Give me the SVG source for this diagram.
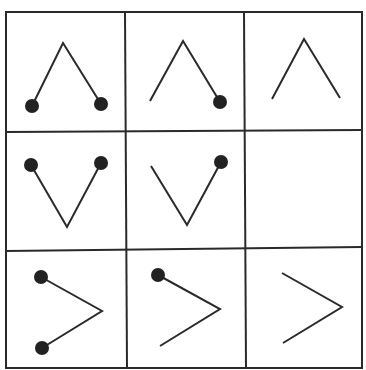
<svg xmlns="http://www.w3.org/2000/svg" width="366" height="370" viewBox="0 0 366 370">
<style>
.grid{stroke:#2a2a2a;stroke-width:2;fill:none}
.ln{stroke:#2a2a2a;stroke-width:2;fill:none;stroke-linejoin:miter}
.dot{fill:#222}
</style>
<rect width="366" height="370" fill="#fff"/>
<g id="grid">
<rect class="grid" x="6" y="12" width="356" height="356"/>
<line class="grid" x1="125" y1="12" x2="127" y2="368"/>
<line class="grid" x1="244" y1="12" x2="246" y2="368"/>
<line class="grid" x1="6" y1="132" x2="362" y2="130"/>
<line class="grid" x1="6" y1="251" x2="362" y2="247"/>
</g>
<g id="cell11"><polyline class="ln" points="32,106 63,43 101,104"/><circle class="dot" cx="32" cy="106" r="7"/><circle class="dot" cx="101" cy="104" r="7"/></g>
<g id="cell12"><polyline class="ln" points="150,101 183,41 220,102"/><circle class="dot" cx="220" cy="102" r="7"/></g>
<g id="cell13"><polyline class="ln" points="272,99 304,39 340,98"/></g>
<g id="cell21"><polyline class="ln" points="31,165 67,227 101,163"/><circle class="dot" cx="31" cy="165" r="7"/><circle class="dot" cx="101" cy="163" r="7"/></g>
<g id="cell22"><polyline class="ln" points="151,166 187,225 221,162"/><circle class="dot" cx="221" cy="162" r="7"/></g>
<g id="cell23"></g>
<g id="cell31"><polyline class="ln" points="41,277 102,311 42,348"/><circle class="dot" cx="41" cy="277" r="7"/><circle class="dot" cx="42" cy="348" r="7"/></g>
<g id="cell32"><polyline class="ln" points="158,275 220,309 160,346"/><circle class="dot" cx="158" cy="275" r="7"/></g>
<g id="cell33"><polyline class="ln" points="282,273 342,307 283,343"/></g>
</svg>
